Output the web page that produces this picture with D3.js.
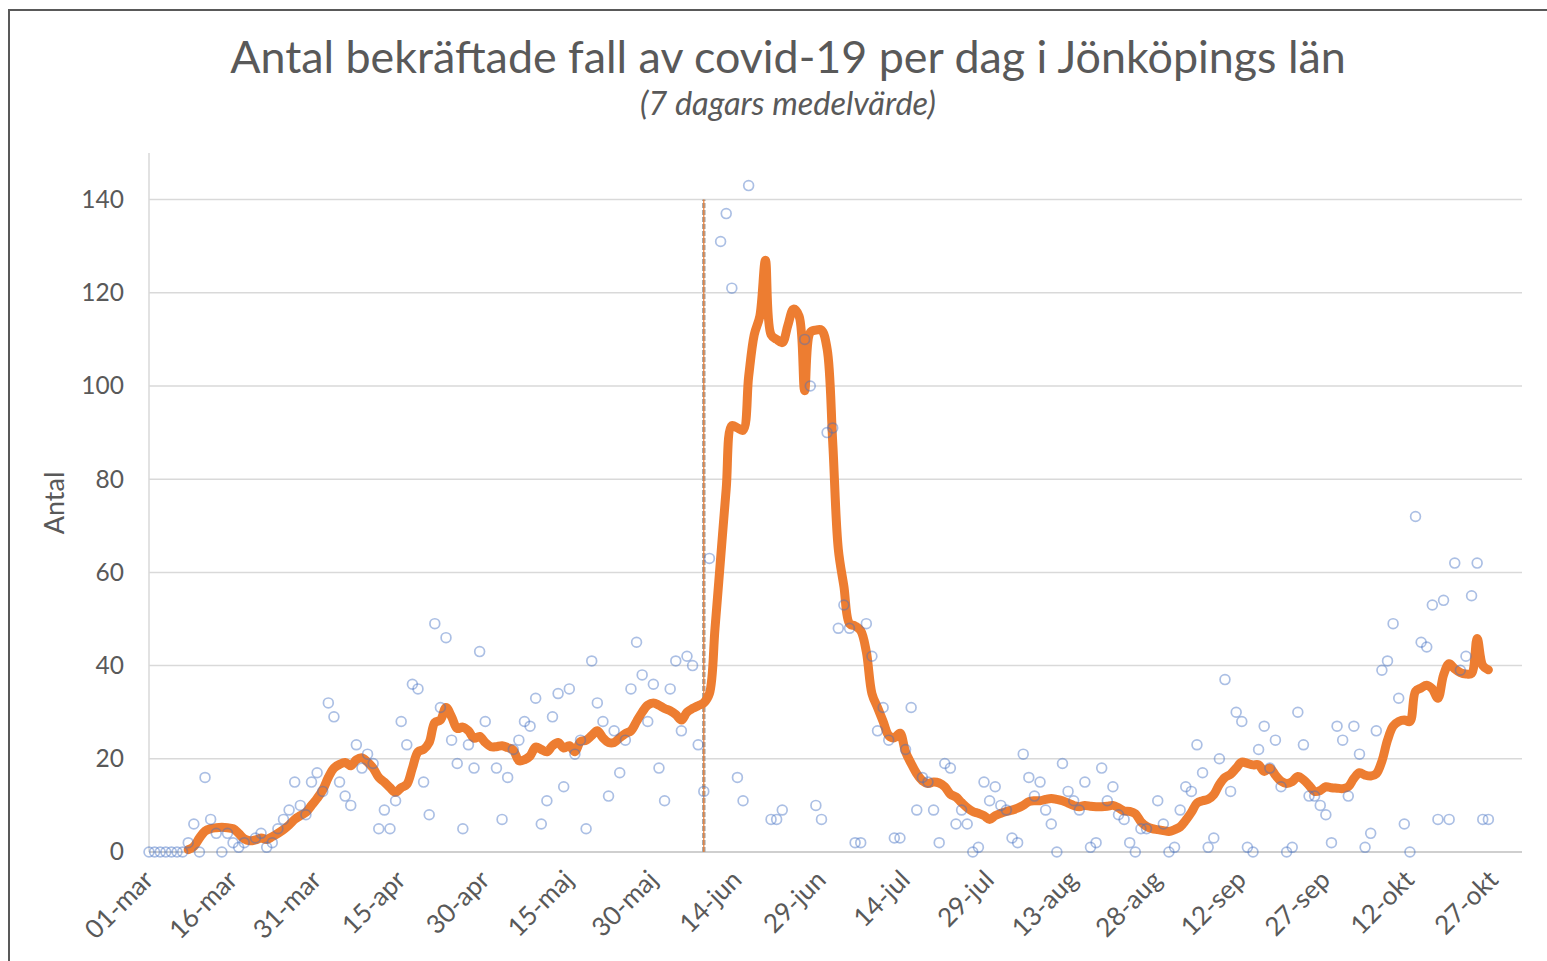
<!DOCTYPE html>
<html>
<head>
<meta charset="utf-8">
<script src="https://cdn.jsdelivr.net/npm/d3@7"></script>
<style>
  html, body { margin: 0; padding: 0; background: #ffffff; }
  svg { display: block; }
  text { font-family: Lato, "Open Sans", "Noto Sans", sans-serif; fill: #595959; }
</style>
</head>
<body>
<svg id="chart" width="1547" height="961"></svg>
<script>
// ---------------- DATA ----------------
const titleText = "Antal bekräftade fall av covid-19 per dag i Jönköpings län";
const subtitleText = "(7 dagars medelvärde)";
const yAxisTitle = "Antal";

const startDate = "2020-03-01";          // first day of the daily series
const endDate = "2020-11-01";            // end of the date axis
const markerDate = "2020-06-08";         // vertical reference line

// daily confirmed cases, one value per day from 01-mar (null = no marker)
const dailyCases = [
  0, 0, 0, 0, 0, 0, 0, 2, 6, 0,          // 01-mar .. 10-mar
  16, 7, 4, 0, 4, 2, 1, 2, null, 3,      // 11-mar .. 20-mar
  4, 1, 2, 5, 7, 9, 15, 10, 8, 15,       // 21-mar .. 30-mar
  17, 13, 32, 29, 15, 12, 10, 23, 18, 21, // 31-mar .. 09-apr
  19, 5, 9, 5, 11, 28, 23, 36, 35, 15,   // 10-apr .. 19-apr
  8, 49, 31, 46, 24, 19, 5, 23, 18, 43,  // 20-apr .. 29-apr
  28, null, 18, 7, 16, 22, 24, 28, 27, 33, // 30-apr .. 09-maj
  6, 11, 29, 34, 14, 35, 21, 24, 5, 41,  // 10-maj .. 19-maj
  32, 28, 12, 26, 17, 24, 35, 45, 38, 28, // 20-maj .. 29-maj
  36, 18, 11, 35, 41, 26, 42, 40, 23, 13, // 30-maj .. 08-jun
  63, null, 131, 137, 121, 16, 11, 143, null, null, // 09-jun .. 18-jun
  null, 7, 7, 9, null, null, null, 110, 100, 10,    // 19-jun .. 28-jun
  7, 90, 91, 48, 53, 48, 2, 2, 49, 42,   // 29-jun .. 08-jul
  26, 31, 24, 3, 3, 22, 31, 9, 16, 15,   // 09-jul .. 18-jul
  9, 2, 19, 18, 6, 9, 6, 0, 1, 15,       // 19-jul .. 28-jul
  11, 14, 10, 9, 3, 2, 21, 16, 12, 15,   // 29-jul .. 07-aug
  9, 6, 0, 19, 13, 11, 9, 15, 1, 2,      // 08-aug .. 17-aug
  18, 11, 14, 8, 7, 2, 0, 5, 5, null,    // 18-aug .. 27-aug
  11, 6, 0, 1, 9, 14, 13, 23, 17, 1,     // 28-aug .. 06-sep
  3, 20, 37, 13, 30, 28, 1, 0, 22, 27,   // 07-sep .. 16-sep
  18, 24, 14, 0, 1, 30, 23, 12, 12, 10,  // 17-sep .. 26-sep
  8, 2, 27, 24, 12, 27, 21, 1, 4, 26,    // 27-sep .. 06-okt
  39, 41, 49, 33, 6, 0, 72, 45, 44, 53,  // 07-okt .. 16-okt
  7, 54, 7, 62, 39, 42, 55, 62, 7, 7     // 17-okt .. 26-okt
];

// 7-day average, one value per day starting 08-mar (day index 7)
const avgStartIndex = 7;
const avg7 = [
  0.5, 1.2, 3, 4.5, 5, 5.2, 5.3, 5.2, 5, 4,           // 08-mar ..
  2.8, 2.4, 2.6, 3, 2.7, 3.3, 4, 4.8, 5.8, 7,
  7.8, 8.5, 10, 11.5, 13.3, 16, 18, 18.8, 19.2, 18.5,
  19.8, 20.2, 19.3, 18, 16, 15, 13.8, 12.8, 13.8, 14.5,
  18, 21.5, 22, 23.5, 27.8, 28.3, 31, 29, 26.5, 26.8,
  26, 24.4, 24.8, 23.5, 22.6, 22.6, 22.8, 22.4, 21.9, 19.6,
  19.8, 20.6, 22.5, 22, 21.5, 22.8, 23.5, 22.3, 22.8, 21.5,
  23.7, 24, 25, 26, 24.5, 23.5, 23.5, 24.5, 25.4, 26,
  28, 30, 31.5, 32, 31.5, 30.8, 30.3, 29.5, 28.3, 30,
  30.8, 31.4, 32, 34, 48, 63, 78, 91.5, 91, 90.5,
  102, 111, 115, 127, 111, 110, 109.3, 113, 116.5, 115,
  99, 111.5, 112, 112, 108, 88, 65, 57, 49, 48.5,
  47.5, 43, 34, 31, 28, 25, 24.5, 25.5, 21.5, 19,
  16.8, 15.3, 14.7, 15, 14.8, 14, 12.4, 11.8, 10.6, 9.5,
  8.7, 8.3, 7.8, 7, 7.8, 8.3, 8.7, 9, 9.4, 10,
  10.8, 11, 11, 11.3, 11.5, 11.3, 11, 10.5, 10, 9.7,
  10, 9.8, 9.7, 9.7, 9.8, 10, 9.5, 8.8, 8.7, 8.2,
  6.5, 5.5, 5, 4.8, 4.6, 4.4, 4.8, 5.4, 6.8, 8.5,
  10.5, 11, 11.3, 12.3, 14.5, 16, 16.7, 18, 19.3, 19,
  18.7, 18.7, 17.3, 18, 16.5, 15.2, 14.7, 15.1, 16.2, 15.5,
  14.3, 13, 13.2, 14, 13.8, 13.7, 13.6, 14, 15.8, 17,
  16.5, 16.3, 16.8, 19.5, 24, 27, 28, 28.3, 28, 34.5,
  35.2, 35.8, 35, 33, 38, 40.4, 39.3, 38.5, 38.2, 38.3,
  45.8, 40, 39.1
];

const xTickLabels = ["01-mar", "16-mar", "31-mar", "15-apr", "30-apr", "15-maj", "30-maj",
  "14-jun", "29-jun", "14-jul", "29-jul", "13-aug", "28-aug", "12-sep", "27-sep", "12-okt", "27-okt"];
const xTickStepDays = 15;
const yTicks = [0, 20, 40, 60, 80, 100, 120, 140];
const yMax = 150;

// ---------------- CHART ----------------
const svg = d3.select("#chart");
const W = 1547, H = 961;
const plot = { left: 149, right: 1522, top: 153, bottom: 852 };

const parse = d3.utcParse("%Y-%m-%d");
const d0 = parse(startDate);
const dayDate = i => d3.utcDay.offset(d0, i);

const x = d3.scaleUtc().domain([d0, parse(endDate)]).range([plot.left, plot.right]);
const y = d3.scaleLinear().domain([0, yMax]).range([plot.bottom, plot.top]);

svg.append("rect").attr("width", W).attr("height", H).attr("fill", "#fff");

// outer frame (top and left edges visible)
svg.append("path")
  .attr("d", `M9,${H} V10 H${W}`)
  .attr("fill", "none").attr("stroke", "#595959").attr("stroke-width", 2);

// gridlines
const gridG = svg.append("g");
gridG.selectAll("line").data(yTicks).join("line")
  .attr("x1", plot.left).attr("x2", plot.right)
  .attr("y1", d => y(d)).attr("y2", d => y(d))
  .attr("stroke", d => d === 0 ? "#bfbfbf" : "#d9d9d9")
  .attr("stroke-width", 1.5);

// vertical axis line
svg.append("line")
  .attr("x1", plot.left).attr("x2", plot.left)
  .attr("y1", plot.top).attr("y2", plot.bottom)
  .attr("stroke", "#d9d9d9").attr("stroke-width", 1.5);

// y axis labels
const yAxis = d3.axisLeft(y).tickValues(yTicks).tickSize(0).tickPadding(0);
const yAxisG = svg.append("g").attr("transform", `translate(${plot.left - 25},0)`).call(yAxis);
yAxisG.select(".domain").remove();
yAxisG.selectAll("text")
  .attr("font-size", 24.5).attr("fill", "#595959")
  .style("font-family", "Lato, 'Open Sans', sans-serif");

// x axis labels
const xTickDates = xTickLabels.map((_, i) => dayDate(i * xTickStepDays));
const xAxis = d3.axisBottom(x).tickValues(xTickDates)
  .tickFormat((d, i) => xTickLabels[i]).tickSize(0).tickPadding(0);
const xAxisG = svg.append("g").attr("transform", `translate(0,${plot.bottom})`).call(xAxis);
xAxisG.select(".domain").remove();
xAxisG.selectAll(".tick text")
  .attr("font-size", 26).attr("fill", "#595959")
  .style("font-family", "Lato, 'Open Sans', sans-serif")
  .attr("text-anchor", "end")
  .attr("x", 0).attr("y", 0).attr("dy", "0.35em")
  .attr("transform", "translate(-1,23) rotate(-45)");

// vertical marker line
const mx = x(parse(markerDate));
svg.append("line")
  .attr("x1", mx).attr("x2", mx).attr("y1", y(0)).attr("y2", y(140))
  .attr("stroke", "#a6a6a6").attr("stroke-width", 3.5).attr("stroke-dasharray", "5,2");
svg.append("line")
  .attr("x1", mx).attr("x2", mx).attr("y1", y(0)).attr("y2", y(140))
  .attr("stroke", "#ED7D31").attr("stroke-width", 1.2);

// 7-day average line
const avgData = avg7.map((v, i) => ({ date: dayDate(avgStartIndex + i), value: v }));
const line = d3.line()
  .x(d => x(d.date)).y(d => y(d.value))
  .curve(d3.curveCatmullRom.alpha(0.5));
svg.append("path")
  .datum(avgData)
  .attr("d", line)
  .attr("fill", "none")
  .attr("stroke", "#ED7D31")
  .attr("stroke-width", 9)
  .attr("stroke-linejoin", "round")
  .attr("stroke-linecap", "round");

// daily markers
const dailyData = dailyCases
  .map((v, i) => ({ date: dayDate(i), value: v }))
  .filter(d => d.value !== null);
svg.append("g").selectAll("circle").data(dailyData).join("circle")
  .attr("cx", d => x(d.date)).attr("cy", d => y(d.value))
  .attr("r", 4.9)
  .attr("fill", "none")
  .attr("stroke", "#4472C4")
  .attr("stroke-opacity", 0.45)
  .attr("stroke-width", 1.7);

// titles
function fitWidth(sel, target) {
  const len = sel.node().getComputedTextLength();
  const fs = parseFloat(sel.attr("font-size"));
  sel.attr("font-size", fs * target / len);
}
const title = svg.append("text")
  .attr("x", 788).attr("y", 73)
  .attr("text-anchor", "middle")
  .attr("font-size", 36)
  .text(titleText);
fitWidth(title, 1116);

const subtitle = svg.append("text")
  .attr("x", 788).attr("y", 115)
  .attr("text-anchor", "middle")
  .attr("font-size", 24)
  .attr("font-style", "italic")
  .text(subtitleText);
fitWidth(subtitle, 296);

svg.append("text")
  .attr("transform", `translate(64,503) rotate(-90)`)
  .attr("text-anchor", "middle")
  .attr("font-size", 27)
  .text(yAxisTitle);
</script>
</body>
</html>
